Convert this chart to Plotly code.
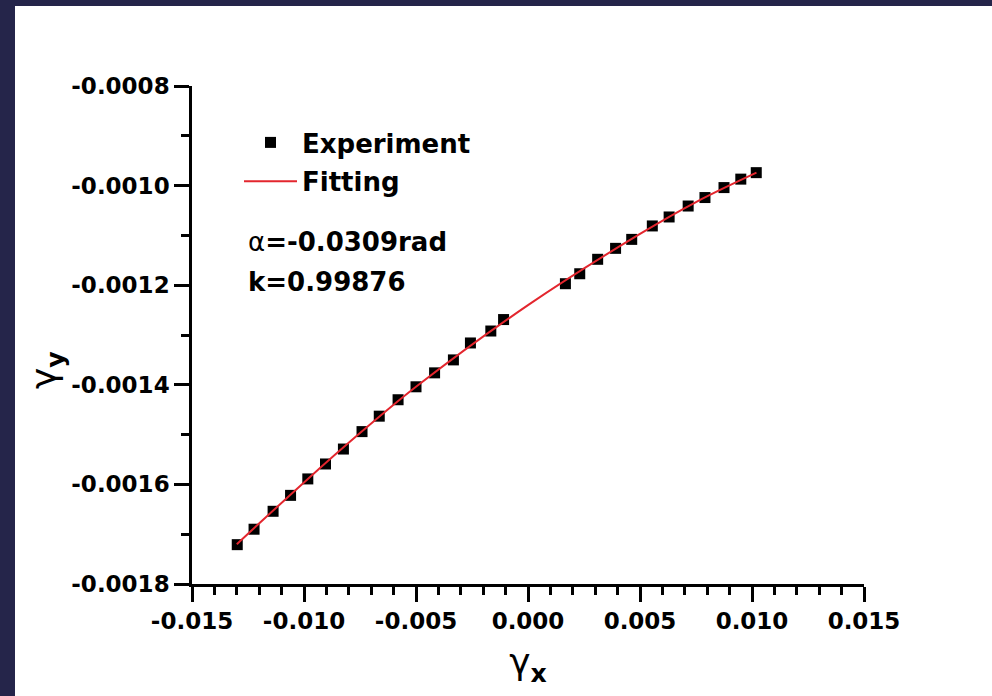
import plotly.graph_objects as go

# Measured shear strains: gamma_x vs gamma_y
gamma_x = [-0.01298, -0.01223, -0.01138, -0.01060, -0.00983, -0.00904, -0.00824,
           -0.00741, -0.00664, -0.00580, -0.00500, -0.00417, -0.00333, -0.00257,
           -0.00166, -0.00109, 0.00167, 0.00231, 0.00311, 0.00391, 0.00463,
           0.00555, 0.00630, 0.00715, 0.00790, 0.00875, 0.00950, 0.01019]
gamma_y = [-0.001721, -0.001690, -0.001654, -0.001622, -0.001589, -0.001559, -0.001529,
           -0.001494, -0.001463, -0.001430, -0.001404, -0.001376, -0.001350, -0.001316,
           -0.001292, -0.001269, -0.001197, -0.001177, -0.001148, -0.001126, -0.001108,
           -0.001081, -0.001063, -0.001041, -0.001024, -0.001004, -0.000987, -0.000974]

# Fitted curve samples
fit_x = [-0.0130, -0.0100, -0.0075, -0.0050, 0.0000, 0.0050, 0.0075, 0.0102]
fit_y = [-0.001720, -0.001596, -0.001497, -0.001404, -0.001240, -0.001097, -0.001033, -0.000974]

# Fit parameters
alpha_text = "-0.0309rad"
k_text = "0.99876"

# Axis ticks
x_tick_vals = [-0.015, -0.010, -0.005, 0.000, 0.005, 0.010, 0.015]
x_tick_labels = ["-0.015", "-0.010", "-0.005", "0.000", "0.005", "0.010", "0.015"]
y_tick_vals = [-0.0018, -0.0016, -0.0014, -0.0012, -0.0010, -0.0008]
y_tick_labels = ["-0.0018", "-0.0016", "-0.0014", "-0.0012", "-0.0010", "-0.0008"]

W, H = 992, 696
ML, MR, MT, MB = 192, 128, 86, 112
NAVY = "#25254a"
FONT = "DejaVu Sans"

fig = go.Figure()
fig.add_trace(go.Scatter(
    x=gamma_x, y=gamma_y, mode="markers", name="Experiment", legendgroup="a",
    marker=dict(symbol="square", size=11, color="black"),
))
fig.add_trace(go.Scatter(
    x=fit_x, y=fit_y, mode="lines", name="Fitting", legendgroup="b",
    line=dict(color="#e3262e", width=2, shape="spline"),
))

axis_common = dict(
    showline=True, linecolor="black", linewidth=2.5,
    ticks="outside", ticklen=15, tickwidth=2.5, tickcolor="black",
    showgrid=False, zeroline=False, mirror=False,
    tickfont=dict(family=FONT, size=23, color="black", weight="bold"),
    tickmode="array",
)

fig.update_xaxes(
    **axis_common, range=[-0.015, 0.015], tickvals=x_tick_vals, ticktext=x_tick_labels,
    minor=dict(ticks="outside", ticklen=8, tickwidth=2.5, tickcolor="black",
               tickmode="linear", tick0=-0.015, dtick=0.001, showgrid=False),
    title=dict(text="γ<sub><b>x</b></sub>", standoff=16,
               font=dict(family=FONT, size=36, color="black")),
)
fig.update_yaxes(
    **axis_common, range=[-0.0018, -0.0008], tickvals=y_tick_vals, ticktext=y_tick_labels,
    minor=dict(ticks="outside", ticklen=8, tickwidth=2.5, tickcolor="black",
               tickmode="linear", tick0=-0.0018, dtick=0.0001, showgrid=False),
)

# Dark frame along the top and left edges
pw, ph = W - ML - MR, H - MT - MB
def px_to_paper_x(p):
    return (p - ML) / pw
def px_to_paper_y(p):
    return (H - MB - p) / ph

fig.add_shape(type="rect", xref="paper", yref="paper", layer="above",
              x0=px_to_paper_x(0), x1=px_to_paper_x(W),
              y0=px_to_paper_y(6), y1=px_to_paper_y(0),
              fillcolor=NAVY, line=dict(width=0))
fig.add_shape(type="rect", xref="paper", yref="paper", layer="above",
              x0=px_to_paper_x(0), x1=px_to_paper_x(15),
              y0=px_to_paper_y(H), y1=px_to_paper_y(0),
              fillcolor=NAVY, line=dict(width=0))

# Y-axis title, set slightly below the axis midpoint
fig.add_annotation(xref="paper", yref="paper", x=px_to_paper_x(46), y=px_to_paper_y(370),
                   xanchor="center", yanchor="middle", showarrow=False, textangle=-90,
                   text="γ<sub><b>y</b></sub>",
                   font=dict(family=FONT, size=36, color="black"))

fig.add_annotation(xref="paper", yref="paper", x=px_to_paper_x(246), y=px_to_paper_y(242),
                   xanchor="left", yanchor="middle", showarrow=False,
                   text="α<b>=" + alpha_text + "</b>",
                   font=dict(family=FONT, size=26, color="black"))
fig.add_annotation(xref="paper", yref="paper", x=px_to_paper_x(246), y=px_to_paper_y(282),
                   xanchor="left", yanchor="middle", showarrow=False,
                   text="<b>k=" + k_text + "</b>",
                   font=dict(family=FONT, size=26, color="black"))

fig.update_layout(
    width=W, height=H,
    margin=dict(l=ML, r=MR, t=MT, b=MB, autoexpand=False),
    paper_bgcolor="white", plot_bgcolor="white",
    showlegend=True,
    legend=dict(x=px_to_paper_x(239), y=px_to_paper_y(119), xanchor="left", yanchor="top",
                bgcolor="rgba(0,0,0,0)", tracegroupgap=2, itemwidth=53,
                font=dict(family=FONT, size=26, color="black", weight="bold")),
)

fig.write_html("out.html")
